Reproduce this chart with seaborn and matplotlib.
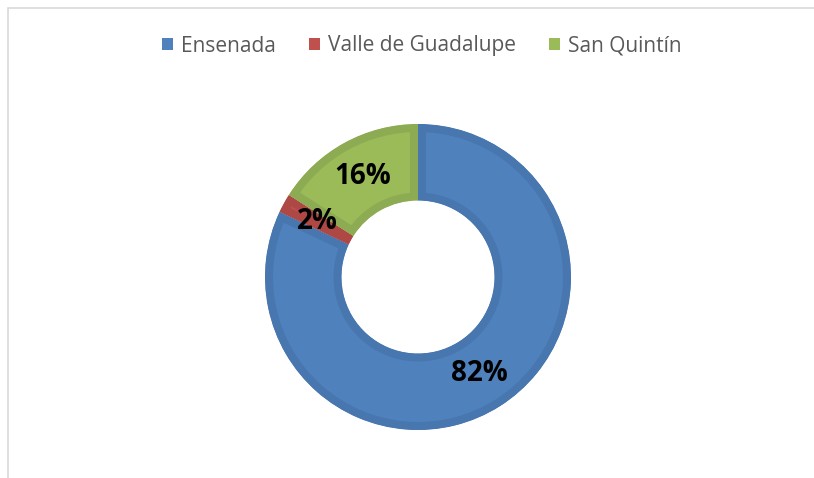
import matplotlib
matplotlib.use("Agg")
import matplotlib.pyplot as plt
from matplotlib.patches import Patch, Rectangle
import seaborn as sns

# ---- data ----
categories = ["Ensenada", "Valle de Guadalupe", "San Quintín"]
shares = [82, 2, 16]
face_colors = ["#4F81BD", "#C0504D", "#9BBB59"]
band_colors = ["#4876AF", "#AE4845", "#8DAB52"]

sns.set_theme(style="white")
plt.rcParams["font.family"] = ["Open Sans", "DejaVu Sans"]

W, H = 814, 478
fig = plt.figure(figsize=(W / 100, H / 100), dpi=100)
fig.patch.set_facecolor("white")

# frame (light gray, top and left edges visible)
fig.add_artist(Rectangle((8 / W, -0.1), 1.2, (H - 8) / H + 0.1,
                         transform=fig.transFigure, fill=False,
                         edgecolor="#D9D9D9", linewidth=1.2))

cx, cy, r = 418, 277, 153
ax = fig.add_axes([(cx - r) / W, (H - cy - r) / H, 2 * r / W, 2 * r / H])

wedges, texts, autotexts = ax.pie(
    shares, colors=face_colors, startangle=90, counterclock=False,
    radius=1.0, pctdistance=0.75,
    autopct=lambda p: f"{p:.0f}%",
    wedgeprops=dict(width=0.5, linewidth=0),
    textprops=dict(fontsize=20, fontweight="bold", color="black"),
)
for w, bc in zip(wedges, band_colors):
    w.set_edgecolor(bc)
    w.set_linewidth(11.5)
    w.set_clip_on(True)
    w.set_clip_path(w)
ax.set_xlim(-1.0, 1.0)
ax.set_ylim(-1.0, 1.0)
ax.set_aspect("equal")
ax.axis("off")

handles = [Patch(facecolor=c, edgecolor="none") for c in face_colors]
fig.legend(handles, categories, loc="center", ncol=3,
           bbox_to_anchor=(421.5 / W, 1 - 46 / H), frameon=False,
           fontsize=15, labelcolor="#595959",
           handlelength=0.55, handleheight=0.55, handletextpad=0.35,
           columnspacing=1.6)

fig.savefig("out.png", dpi=100)
